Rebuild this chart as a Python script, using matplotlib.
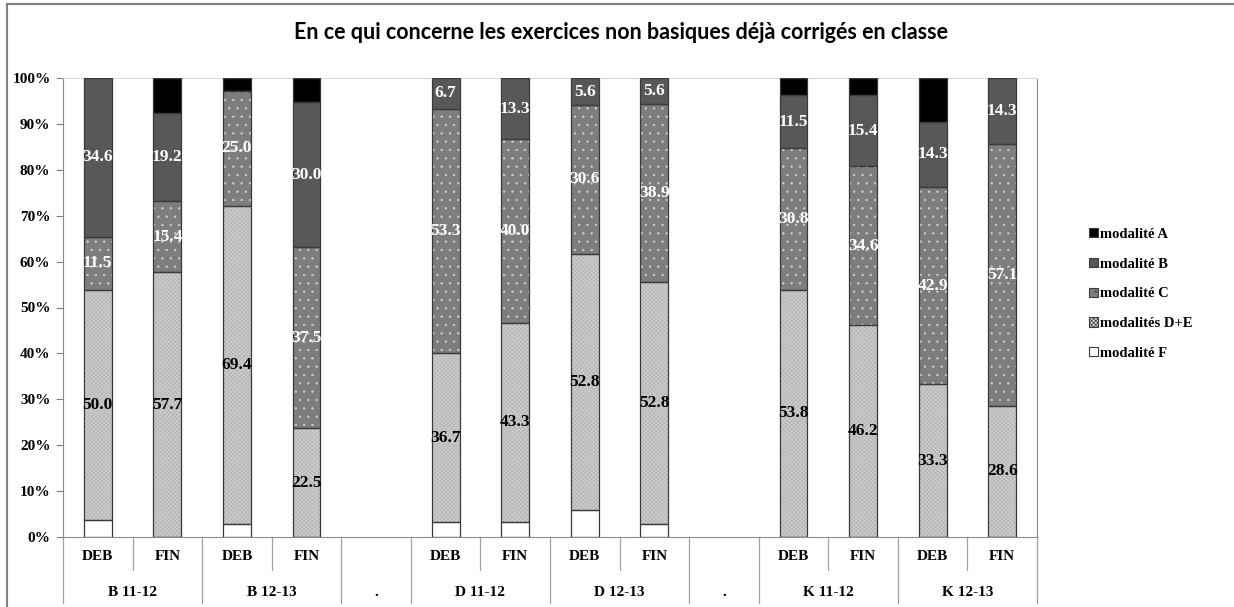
import matplotlib
matplotlib.use("Agg")
import matplotlib.pyplot as plt
import matplotlib.transforms as mtransforms
from matplotlib.lines import Line2D
from matplotlib.patches import Patch
import numpy as np

# one slot per bar, empty label = spacer column
slots = ['DEB', 'FIN', 'DEB', 'FIN', '', 'DEB', 'FIN', 'DEB', 'FIN', '', 'DEB', 'FIN', 'DEB', 'FIN']
groups = ['B 11-12', 'B 12-13', '.', 'D 11-12', 'D 12-13', '.', 'K 11-12', 'K 12-13']
group_span = [2, 2, 1, 2, 2, 1, 2, 2]

# percentages per modality (bottom -> top)
mod_F = [3.8, 0, 2.8, 0, 0, 3.3, 3.3, 5.6, 2.8, 0, 0, 0, 0, 0]
mod_DE = [50.0, 57.7, 69.4, 22.5, 0, 36.7, 43.3, 52.8, 52.8, 0, 53.8, 46.2, 33.3, 28.6]
mod_C = [11.5, 15.4, 25.0, 37.5, 0, 53.3, 40.0, 30.6, 38.9, 0, 30.8, 34.6, 42.9, 57.1]
mod_B = [34.6, 19.2, 0, 30.0, 0, 6.7, 13.3, 5.6, 5.6, 0, 11.5, 15.4, 14.3, 14.3]
mod_A = [0, 7.7, 2.8, 5.0, 0, 0, 0, 0, 0, 0, 3.8, 3.8, 9.5, 0]

series = [
    # values, legend, face, hatch, hatch colour, label colour
    (mod_F, 'modalité F', '#ffffff', None, None, None),
    (mod_DE, 'modalités D+E', '#cdcdcd', 'xxxxxxxx', '#b2b2b2', 'black'),
    (mod_C, 'modalité C', '#7d7d7d', '..', '#d0d0d0', 'white'),
    (mod_B, 'modalité B', '#585858', None, None, 'white'),
    (mod_A, 'modalité A', '#000000', None, None, None),
]

serif = 'Liberation Serif'
plt.rcParams['hatch.linewidth'] = 0.45

fig = plt.figure(figsize=(12.34, 6.07), dpi=100)
ax = fig.add_axes([63 / 1234, 1 - 537 / 607, 974 / 1234, 459 / 607])

x = np.arange(len(slots)) + 0.5
show = np.array([s != '' for s in slots])
data = np.array([s[0] for s in series], dtype=float)
total = data.sum(axis=0)
total[total == 0] = 1
norm = data / total * 100  # 100% stacked

width = 0.4
bottom = np.zeros(len(slots))
for (vals, name, face, hatch, hcol, tcol), h in zip(series, norm):
    xs, hs, bs = x[show], h[show], bottom[show]
    ax.bar(xs, hs, width, bottom=bs, color=face, hatch=hatch,
           edgecolor=hcol if hcol else face, linewidth=0, zorder=2)
    ax.bar(xs, hs, width, bottom=bs, fill=False, edgecolor='#3a3a3a',
           linewidth=0.9, zorder=3)
    if tcol:
        for xi, v, hi, bi in zip(x, vals, h, bottom):
            if v > 0:
                ax.text(xi, bi + hi / 2, f'{v:.1f}', ha='center', va='center',
                        color=tcol, fontsize=12.5, fontweight='bold',
                        family=serif, zorder=4)
    bottom += h

ax.set_xlim(0, len(slots))
ax.set_ylim(0, 100)
ax.set_yticks(np.arange(0, 101, 10))
ax.set_yticklabels([f'{t}%' for t in range(0, 101, 10)],
                   fontsize=11, fontweight='bold', family=serif)
ax.tick_params(axis='y', length=5, color='#808080', pad=4)
ax.set_xticks([])

for side in ['left', 'bottom', 'right']:
    ax.spines[side].set_color('#8c8c8c')
ax.spines['top'].set_color('#d9d9d9')

# two-level category axis
trans = mtransforms.blended_transform_factory(ax.transData, ax.transAxes)
for xi, s in zip(x, slots):
    if s:
        ax.text(xi, -0.042, s, transform=trans, ha='center', va='center',
                fontsize=11, fontweight='bold', family=serif)
edges = np.concatenate([[0], np.cumsum(group_span)])
for g, lo, hi in zip(groups, edges[:-1], edges[1:]):
    ax.text((lo + hi) / 2, -0.12, g, transform=trans, ha='center', va='center',
            fontsize=11, fontweight='bold', family=serif)
    if hi - lo == 2:
        ax.add_line(Line2D([lo + 1, lo + 1], [0, -0.072], transform=trans,
                           color='#a0a0a0', lw=0.9, clip_on=False))
for e in edges:
    ax.add_line(Line2D([e, e], [0, -0.144], transform=trans,
                       color='#a0a0a0', lw=0.9, clip_on=False))

fig.suptitle('En ce qui concerne les exercices non basiques déjà corrigés en classe',
             x=0.503, y=0.963, fontsize=15.5, fontweight='bold', family='Lato')

handles = [Patch(facecolor=s[2], edgecolor='#3a3a3a', hatch=s[3], linewidth=0.8)
           for s in series[::-1]]
leg = fig.legend(handles, [s[1] for s in series[::-1]], loc='upper left',
                 bbox_to_anchor=(1083 / 1234, 1 - 222 / 607), frameon=False,
                 handlelength=0.6, handleheight=0.6, handletextpad=0.2,
                 labelspacing=1.15, borderaxespad=0,
                 prop={'family': serif, 'weight': 'bold', 'size': 10.5})

# outer chart frame
fig.add_artist(Line2D([7 / 1234, 7 / 1234], [0, 1 - 4 / 607], color='#808080', lw=1.5))
fig.add_artist(Line2D([7 / 1234, 1], [1 - 4 / 607, 1 - 4 / 607], color='#808080', lw=1.5))

fig.savefig('out.png', dpi=100)
